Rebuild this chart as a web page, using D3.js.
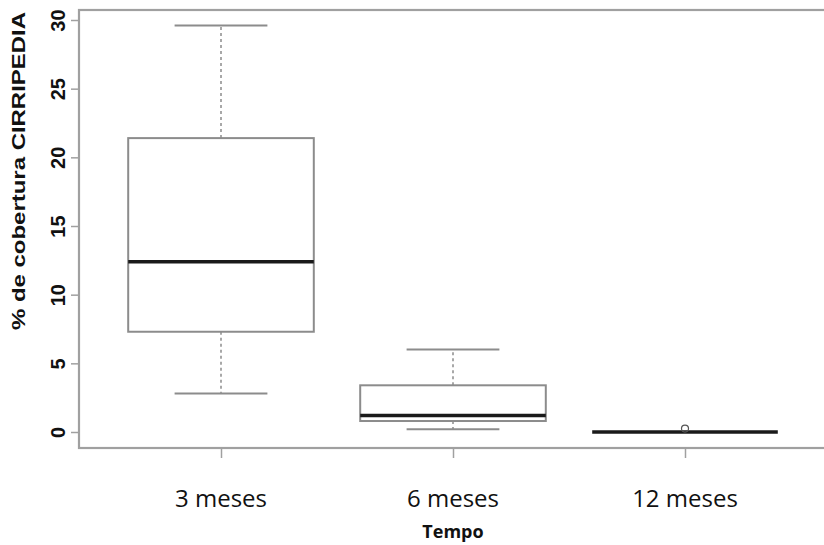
<!DOCTYPE html>
<html>
<head>
<meta charset="utf-8">
<script src="https://cdn.jsdelivr.net/npm/d3@7"></script>
<style>
  html, body { margin: 0; padding: 0; background: #fff; }
  svg { display: block; }
</style>
</head>
<body>
<svg id="chart" width="824" height="545"></svg>
<script>
// Boxplot summary per sampling time
const categories = ["3 meses", "6 meses", "12 meses"];
const lowerWhisker = [2.8, 0.2, 0];
const q1 = [7.3, 0.8, 0];
const median = [12.4, 1.2, 0];
const q3 = [21.4, 3.4, 0];
const upperWhisker = [29.6, 6.0, 0];
const outliers = [[], [], [0.25]];
const yTicks = [0, 5, 10, 15, 20, 25, 30];
const yTitle = "% de cobertura CIRRIPEDIA";
const xTitle = "Tempo";

const svg = d3.select("#chart");

const frame = { left: 79, top: 10, right: 830, bottom: 448 };

const x = d3.scalePoint().domain(categories).range([221, 685]);
const step = x.step();
const boxW = step * 0.8;
const capW = boxW / 2;

const y = d3.scaleLinear().domain([0, 30]).range([432, 20]);

const gray = "#a0a0a0";
const boxGray = "#8c8c8c";

// plot frame
svg.append("rect")
  .attr("x", frame.left).attr("y", frame.top)
  .attr("width", frame.right - frame.left)
  .attr("height", frame.bottom - frame.top)
  .attr("fill", "none").attr("stroke", gray).attr("stroke-width", 2.2);

// y axis
const yAxis = d3.axisLeft(y).tickValues(yTicks).tickSize(8).tickPadding(0);
const gy = svg.append("g").attr("transform", `translate(${frame.left},0)`).call(yAxis);
gy.select(".domain").remove();
gy.selectAll(".tick line").attr("stroke", gray).attr("stroke-width", 1.5);
gy.selectAll(".tick text")
  .attr("transform", "rotate(-90)")
  .attr("x", 0).attr("y", -14).attr("dy", "0")
  .attr("text-anchor", "middle")
  .attr("font-family", "Liberation Sans, Arial, sans-serif")
  .attr("font-weight", "bold")
  .attr("font-size", 20)
  .attr("fill", "#111");

// x axis ticks
const xAxis = d3.axisBottom(x).tickSize(9).tickFormat("");
const gx = svg.append("g").attr("transform", `translate(0,${frame.bottom + 1})`).call(xAxis);
gx.select(".domain").remove();
gx.selectAll(".tick line").attr("stroke", gray).attr("stroke-width", 1.5);

// x category labels
svg.append("g").selectAll("text").data(categories).join("text")
  .attr("x", d => x(d)).attr("y", 507)
  .attr("text-anchor", "middle")
  .attr("font-family", "Open Sans, sans-serif")
  .attr("font-size", 24)
  .attr("fill", "#111")
  .text(d => d);

// axis titles
svg.append("text")
  .attr("x", 453).attr("y", 538)
  .attr("text-anchor", "middle")
  .attr("font-family", "Open Sans, sans-serif")
  .attr("font-weight", "bold")
  .attr("font-size", 18)
  .attr("fill", "#111")
  .text(xTitle);

svg.append("text")
  .attr("transform", "translate(25,171) rotate(-90)")
  .attr("text-anchor", "middle")
  .attr("font-family", "Liberation Sans, Arial, sans-serif")
  .attr("font-weight", "bold")
  .attr("font-size", 19)
  .attr("textLength", 318)
  .attr("lengthAdjust", "spacingAndGlyphs")
  .attr("fill", "#111")
  .text(yTitle);

// boxes
const boxes = svg.append("g");
categories.forEach((c, i) => {
  const cx = x(c);
  const g = boxes.append("g");
  // whiskers
  g.append("line")
    .attr("x1", cx).attr("x2", cx)
    .attr("y1", y(q3[i])).attr("y2", y(upperWhisker[i]))
    .attr("stroke", boxGray).attr("stroke-width", 1.5).attr("stroke-dasharray", "3,3");
  g.append("line")
    .attr("x1", cx).attr("x2", cx)
    .attr("y1", y(q1[i])).attr("y2", y(lowerWhisker[i]))
    .attr("stroke", boxGray).attr("stroke-width", 1.5).attr("stroke-dasharray", "3,3");
  // caps
  [upperWhisker[i], lowerWhisker[i]].forEach(v => {
    g.append("line")
      .attr("x1", cx - capW / 2).attr("x2", cx + capW / 2)
      .attr("y1", y(v)).attr("y2", y(v))
      .attr("stroke", boxGray).attr("stroke-width", 2);
  });
  // box
  g.append("rect")
    .attr("x", cx - boxW / 2).attr("y", y(q3[i]))
    .attr("width", boxW).attr("height", Math.max(0, y(q1[i]) - y(q3[i])))
    .attr("fill", "#fff").attr("stroke", boxGray).attr("stroke-width", 2);
  // median
  g.append("line")
    .attr("x1", cx - boxW / 2).attr("x2", cx + boxW / 2)
    .attr("y1", y(median[i])).attr("y2", y(median[i]))
    .attr("stroke", "#1a1a1a").attr("stroke-width", 3.5);
  // outliers
  g.selectAll("circle").data(outliers[i]).join("circle")
    .attr("cx", cx).attr("cy", d => y(d))
    .attr("r", 3.5)
    .attr("fill", "none").attr("stroke", "#555").attr("stroke-width", 1.2);
});
</script>
</body>
</html>
